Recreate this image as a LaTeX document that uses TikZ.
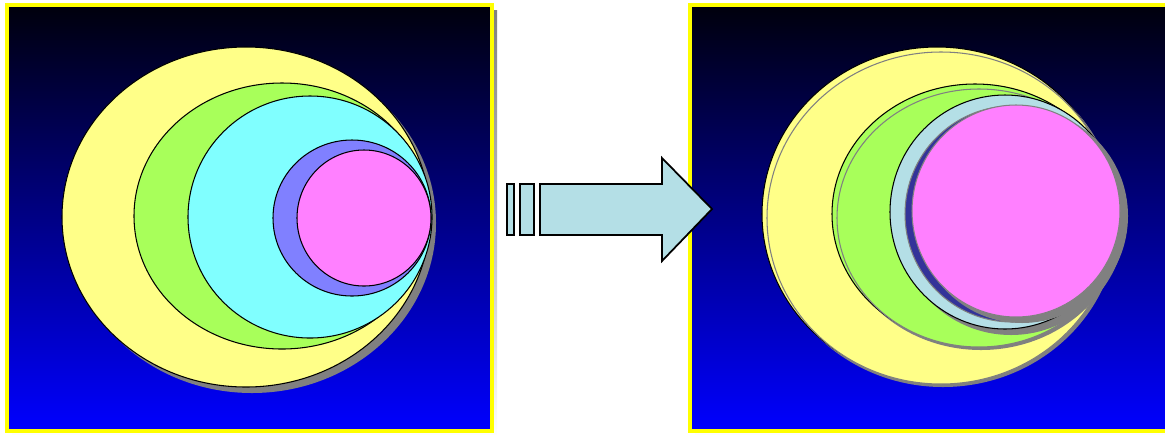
\documentclass[tikz,border=0pt]{standalone}
\usetikzlibrary{shadings}
\definecolor{sunny}{RGB}{255,255,136}
\definecolor{lime}{RGB}{168,255,90}
\definecolor{aqua}{RGB}{128,255,255}
\definecolor{lilac}{RGB}{128,128,255}
\definecolor{rose}{RGB}{255,128,255}
\definecolor{ice}{RGB}{180,223,230}
\definecolor{deepblue}{RGB}{51,51,153}
\definecolor{shade}{RGB}{128,128,128}
\definecolor{rim}{RGB}{255,255,0}
\begin{document}
\begin{tikzpicture}[x=0.02cm,y=-0.02cm,
    panel/.style={draw=rim,line width=2pt,top color={rgb,255:red,0;green,0;blue,12},bottom color={rgb,255:red,0;green,0;blue,255}},
    blob/.style={draw=black,line width=0.6pt,fill=#1},
    ghost/.style={draw=shade,line width=0.6pt,fill=#1},
    drop/.style={fill=shade,draw=none}]
    \useasboundingbox (0,0) rectangle (1165,434);

    % left panel
    \fill[shade] (12,10) rectangle (497,440);
    \path[panel] (7,5) rectangle (492,431);
    \fill[drop] (252,223) ellipse [x radius=184,y radius=170];
    \path[blob=sunny] (246,217) ellipse [x radius=184,y radius=170];
    \path[blob=lime] (282,216) ellipse [x radius=148,y radius=133];
    \path[blob=aqua] (310,217) ellipse [x radius=122,y radius=121];
    \path[blob=lilac] (352,218) ellipse [x radius=79,y radius=78];
    \path[blob=rose] (364,218) ellipse [x radius=67,y radius=68];

    % right panel
    \fill[shade] (695,10) rectangle (1175,440);
    \path[panel] (690,5) rectangle (1170,431);

    \fill[drop] (943,220) ellipse [x radius=175,y radius=167];
    \path[blob=sunny] (937,214) ellipse [x radius=175,y radius=167];
    \path[ghost=sunny] (941,218) ellipse [x radius=174,y radius=166];

    \fill[drop] (981,220) ellipse [x radius=143,y radius=130];
    \path[blob=lime] (975,214) ellipse [x radius=143,y radius=130];
    \path[ghost=lime] (979,218) ellipse [x radius=142,y radius=129];

    \fill[drop] (1011,218) ellipse [x radius=115,y radius=117];
    \path[blob=ice] (1005,212) ellipse [x radius=115,y radius=117];

    \path[ghost=deepblue] (1012,214) ellipse [x radius=107,y radius=108];
    \fill[drop] (1022,216) ellipse [x radius=106,y radius=107];
    \path[ghost=rose] (1016,211) ellipse [x radius=104,y radius=106];

    % arrow
    \path[blob=ice,line width=1pt] (507,184) rectangle (514,235);
    \path[blob=ice,line width=1pt] (520,184) rectangle (534,235);
    \path[blob=ice,line width=1pt] (540,184) -- (662,184) -- (662,158) -- (712,209)
        -- (662,261) -- (662,235) -- (540,235) -- cycle;
\end{tikzpicture}
\end{document}
